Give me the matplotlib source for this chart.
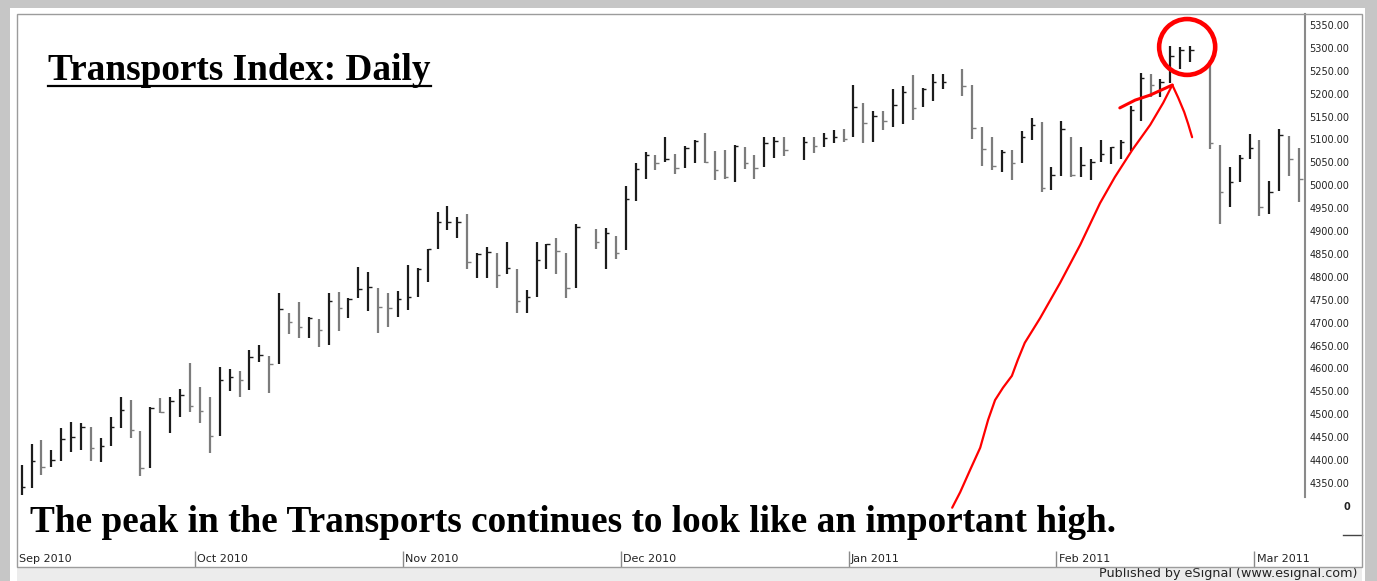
import numpy as np
import pandas as pd
import matplotlib
matplotlib.use("Agg")
import matplotlib.pyplot as plt
from matplotlib.patches import Rectangle, Ellipse
from matplotlib.lines import Line2D

# Dow Jones Transports, daily bars (high / low / close), Sep 7 2010 - Mar 7 2011
dias = pd.bdate_range("2010-09-07", "2011-03-07")
feriados = ["2010-11-25", "2010-12-24", "2011-01-17", "2011-02-21"]

maximos = [4390, 4435, 4444, 4422, 4470, 4483, 4481, 4472, 4448, 4494,
           4538, 4531, 4464, 4516, 4536, 4538, 4555, 4612, 4560, 4538,
           4603, 4599, 4595, 4641, 4651, 4627, 4765, 4721, 4745, 4713,
           4708, 4765, 4767, 4754, 4822, 4811, 4776, 4765, 4769, 4826,
           4820, 4861, 4942, 4955, 4931, 4937, 4852, 4865, 4852, 4876,
           4817, 4772, 4876, 4872, 4885, 4852, 4916,
           4905, 4907, 4889, 4999, 5049, 5073, 5066, 5105, 5068, 5086,
           5099, 5114, 5075, 5077, 5088, 5084, 5066, 5105, 5105, 5105,
           5105, 5105, 5114, 5121, 5123, 5219, 5180, 5162, 5162, 5210,
           5217, 5241, 5212, 5243, 5243,
           5254, 5219, 5127, 5105, 5077, 5077, 5119, 5147, 5138, 5040,
           5140, 5105, 5084, 5057, 5099, 5084, 5099, 5173, 5245, 5243,
           5232, 5304, 5302, 5304,
           5274, 5088, 5040, 5066, 5112, 5099, 5009, 5123, 5108, 5081]
minimos = [4324, 4339, 4368, 4385, 4398, 4418, 4422, 4398, 4396, 4431,
           4470, 4448, 4365, 4383, 4503, 4459, 4494, 4505, 4481, 4416,
           4453, 4551, 4538, 4553, 4614, 4547, 4610, 4675, 4667, 4667,
           4647, 4651, 4682, 4710, 4754, 4726, 4678, 4691, 4713, 4728,
           4756, 4789, 4861, 4902, 4885, 4817, 4798, 4798, 4776, 4806,
           4721, 4721, 4756, 4817, 4806, 4754, 4776,
           4861, 4817, 4839, 4859, 4966, 5014, 5033, 5051, 5025, 5038,
           5049, 5049, 5012, 5014, 5007, 5036, 5014, 5040, 5060, 5064,
           5055, 5071, 5084, 5092, 5095, 5105, 5092, 5095, 5121, 5127,
           5134, 5143, 5171, 5184, 5210,
           5195, 5101, 5042, 5033, 5029, 5012, 5049, 5099, 4985, 4990,
           5020, 5018, 5018, 5012, 5051, 5047, 5057, 5075, 5140, 5193,
           5193, 5223, 5254, 5269,
           5079, 4916, 4953, 5007, 5057, 4933, 4937, 4988, 5020, 4964]
cierres = [4341, 4398, 4385, 4400, 4446, 4451, 4472, 4427, 4431, 4472,
           4510, 4466, 4383, 4514, 4505, 4529, 4542, 4518, 4507, 4453,
           4575, 4582, 4575, 4625, 4630, 4610, 4730, 4702, 4691, 4710,
           4684, 4747, 4732, 4752, 4774, 4778, 4734, 4732, 4752, 4756,
           4817, 4861, 4920, 4920, 4920, 4833, 4850, 4854, 4804, 4820,
           4747, 4756, 4837, 4872, 4857, 4776, 4909,
           4876, 4896, 4852, 4970, 5036, 5066, 5049, 5057, 5038, 5081,
           5097, 5051, 5033, 5018, 5086, 5049, 5038, 5092, 5097, 5077,
           5095, 5086, 5103, 5105, 5101, 5171, 5136, 5151, 5140, 5175,
           5204, 5169, 5210, 5226, 5226,
           5217, 5125, 5079, 5042, 5073, 5049, 5105, 5132, 4994, 5023,
           5123, 5023, 5044, 5051, 5068, 5084, 5095, 5164, 5234, 5219,
           5226, 5282, 5295, 5295,
           5092, 4985, 5007, 5060, 5081, 4953, 4985, 5110, 5057, 5014]

# trazo rojo hecho a mano (posicion de barra, precio)
trazo_x = [93.97, 94.78, 95.79, 96.8, 97.6, 98.3, 99.1, 100.0, 100.6, 101.3,
           102.85, 104.87, 106.9, 108.9, 110.4, 112.15, 113.97, 115.28, 116.2]
trazo_y = [4296, 4330, 4379, 4427, 4488, 4531, 4558, 4584, 4619, 4656,
           4710, 4787, 4870, 4961, 5018, 5077, 5132, 5180, 5219]
flecha_izq_x = [110.9, 112.45, 113.97, 115.5, 116.2]
flecha_izq_y = [5169, 5186, 5197, 5212, 5219]
flecha_der_x = [116.2, 116.8, 117.4, 117.8, 118.2]
flecha_der_y = [5219, 5191, 5160, 5134, 5105]

W, H = 1377, 581
fig = plt.figure(figsize=(W / 100, H / 100), dpi=100, facecolor="#c6c6c6")

# fondo blanco, franja inferior y marco
fig.add_artist(Rectangle((10 / W, 0), 1355 / W, 1 - 8 / H, transform=fig.transFigure,
                         facecolor="white", edgecolor="none", zorder=-5))
fig.add_artist(Rectangle((17 / W, 0), 1345 / W, 14 / H, transform=fig.transFigure,
                         facecolor="#ececec", edgecolor="none", zorder=-4))
fig.add_artist(Rectangle((17 / W, 14 / H), 1345 / W, 553 / H, transform=fig.transFigure,
                         fill=False, edgecolor="#9c9c9c", lw=1, zorder=5))

pos_slot = {d: i for i, d in enumerate(dias)}
habiles = [d for d in dias if d.strftime("%Y-%m-%d") not in feriados]
x = np.array([pos_slot[d] for d in habiles])
hi = np.array(maximos)
lo = np.array(minimos)
cl = np.array(cierres)

ax = fig.add_axes([17 / W, 1 - 497 / H, 1288 / W, 483 / H])
ax.set_facecolor("none")
ax.set_xlim(-0.47, 129.6)
ax.set_ylim(4319.4, 5374)

sube = np.r_[True, cl[1:] >= cl[:-1]]
colores = np.where(sube, "#1c1c1c", "#7c7c7c")
ax.vlines(x, lo, hi, colors=colores, lw=1.6)
ax.hlines(cl, x, x + 0.35, colors=colores, lw=1.0)

ax.yaxis.tick_right()
ticks = np.arange(4350, 5351, 50)
ax.set_yticks(ticks)
ax.set_yticklabels([f"{t:.2f}" for t in ticks])
ax.tick_params(axis="y", length=0, pad=3, labelsize=7, labelcolor="#222222")
ax.set_xticks([])
for lado in ["left", "top", "bottom"]:
    ax.spines[lado].set_visible(False)
ax.spines["right"].set_color("#8a8a8a")
ax.spines["right"].set_linewidth(1.5)

# anotaciones en rojo
ax.plot(trazo_x, trazo_y, color="#ff0000", lw=1.6, clip_on=False, solid_capstyle="round", zorder=6)
ax.plot(flecha_izq_x, flecha_izq_y, color="#ff0000", lw=2.2, clip_on=False, solid_capstyle="round", zorder=6)
ax.plot(flecha_der_x, flecha_der_y, color="#ff0000", lw=1.6, clip_on=False, solid_capstyle="round", zorder=6)
ax.add_patch(Ellipse((117.7, 5302), 5.66, 122, fill=False, edgecolor="#ff0000", lw=3.3, clip_on=False, zorder=6))

# eje de fechas
ax_f = fig.add_axes([17 / W, 14 / H, 1288 / W, 22 / H])
ax_f.set_xlim(-0.47, 129.6)
ax_f.set_ylim(0, 1)
ax_f.axis("off")
for i, d in enumerate(dias):
    if i == 0 or d.month != dias[i - 1].month:
        if i > 0:
            ax_f.vlines(i - 0.5, 0, 0.73, color="#8a8a8a", lw=1)
        ax_f.text(i - 0.25, 0.36, d.strftime("%b %Y"), fontsize=8, color="#222222",
                  ha="left", va="center")

fig.text(1350 / W, 1 - 507 / H, "0", ha="right", va="center", fontsize=7,
         weight="bold", color="#222222")
fig.add_artist(Line2D([1343 / W, 1362 / W], [1 - 535 / H] * 2, color="#444444", lw=1))

titulo = fig.text(48 / W, 1 - 80 / H, "Transports Index: Daily", fontsize=26.8,
                  family="Liberation Serif", weight="bold", va="baseline")
fig.text(30 / W, 1 - 532 / H, "The peak in the Transports continues to look like an important high.",
         fontsize=26.8, family="Liberation Serif", weight="bold", va="baseline")
fig.text(1357 / W, 1 - 574 / H, "Published by eSignal (www.esignal.com)", fontsize=9.2,
         color="#222222", ha="right", va="center")

fig.canvas.draw()
bb = titulo.get_window_extent()
fig.add_artist(Line2D([bb.x0 / W, bb.x1 / W], [1 - 86 / H] * 2, color="black", lw=1.6))

fig.savefig("out.png", dpi=100, facecolor=fig.get_facecolor())
